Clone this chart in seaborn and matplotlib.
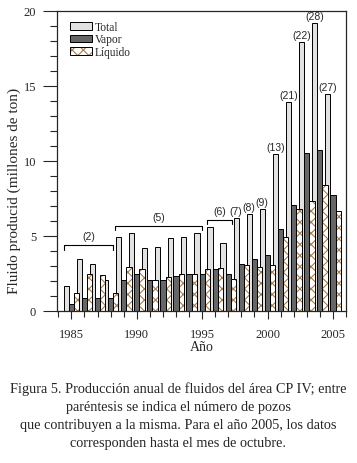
import pandas as pd
import seaborn as sns
import matplotlib.pyplot as plt
import matplotlib.colors as mcolors
from matplotlib.ticker import MultipleLocator

# annual production (millones de ton)
years = list(range(1985, 2006))
total = [1.67, 3.44, 3.16, 2.10, 4.96, 5.20, 4.18, 4.29, 4.84, 4.96, 5.22,
         5.62, 4.56, 6.22, 6.49, 6.82, 10.44, 13.96, 17.96, 19.18, 14.44]
vapor = [0.44, 0.89, 0.84, 0.84, 2.04, 2.44, 2.04, 2.04, 2.33, 2.46, 2.44,
         2.78, 2.44, 3.16, 3.49, 3.71, 5.49, 7.09, 10.56, 10.76, 7.76]
liquido = [1.18, 2.50, 2.38, 1.22, 2.93, 2.78, 2.10, 2.27, 2.50, 2.50, 2.78,
           2.84, 2.11, 3.09, 2.96, 3.09, 4.96, 6.82, 7.36, 8.38, 6.64]
series_names = ['Total', 'Vapor', 'Líquido']

# number of wells (groups spanning several years)
bracket_labels = ['(2)', '(5)', '(6)']
bracket_start = [1984.4, 1988.35, 1995.35]
bracket_end = [1988.2, 1995.0, 1997.3]
bracket_y = [4.4, 5.7, 6.1]

# number of wells (single years)
well_years = [1998, 1999, 2000, 2001, 2002, 2003, 2004, 2005]
well_counts = [7, 8, 9, 13, 21, 22, 28, 27]

caption = ("Figura 5. Producción anual de fluidos del área CP IV; entre\n"
           "paréntesis se indica el número de pozos\n"
           "que contribuyen a la misma. Para el año 2005, los datos\n"
           "corresponden hasta el mes de octubre.")

df = pd.DataFrame({
    'year': years * 3,
    'value': total + vapor + liquido,
    'tipo': [n for n in series_names for _ in years],
})

sns.set_style('ticks')
plt.rcParams['font.family'] = 'serif'
plt.rcParams['font.serif'] = ['Liberation Serif', 'DejaVu Serif']
plt.rcParams['hatch.linewidth'] = 0.8

fig = plt.figure(figsize=(3.57, 4.64), dpi=100)
ax = fig.add_axes([57 / 357, 1 - 312 / 464, 289 / 357, 300 / 464])

sns.barplot(data=df, x='year', y='value', hue='tipo', hue_order=series_names,
            native_scale=True, width=1.2, errorbar=None, ax=ax,
            palette=['#e2e2e2', '#666666', '#ffffff'],
            edgecolor='black', linewidth=0.7, saturation=1)

hatch_col = mcolors.to_rgba('#a57c4e')
for p in ax.containers[2]:
    p.set_hatch('xxx')
    p._hatch_color = hatch_col

handles = [c[0] for c in ax.containers]
ax.legend(handles, series_names, loc='upper left', frameon=False,
          bbox_to_anchor=(0.02, 0.99), fontsize=8.3, handlelength=1.9,
          handleheight=0.6, handletextpad=0.3, labelspacing=0.05,
          borderaxespad=0.2)

# well-count brackets
for lab, x0, x1, y in zip(bracket_labels, bracket_start, bracket_end, bracket_y):
    ax.plot([x0, x0, x1, x1], [y - 0.3, y, y, y - 0.3], color='black', lw=0.8)
    ax.text((x0 + x1) / 2, y + 0.25, lab, ha='center', va='bottom',
            fontsize=7.5, family='Liberation Sans')

tot_by_year = dict(zip(years, total))
for yr, n in zip(well_years, well_counts):
    ax.annotate('({})'.format(n), (yr - 0.4, tot_by_year[yr]),
                xytext=(0, 1.5), textcoords='offset points',
                ha='center', va='bottom', fontsize=7.5, family='Liberation Sans')

ax.set_xlim(1983.9, 2006.0)
ax.set_ylim(0, 20)
ax.set_xticks([1985, 1990, 1995, 2000, 2005])
ax.set_xticklabels(['1985', '1990', '1995', '2000', '2005'])
ax.xaxis.set_minor_locator(MultipleLocator(1))
ax.set_yticks([0, 5, 10, 15, 20])
ax.yaxis.set_minor_locator(MultipleLocator(1))
ax.tick_params(axis='both', which='major', labelsize=9, width=0.8)
ax.tick_params(axis='y', which='major', length=10, pad=5)
ax.tick_params(axis='y', which='minor', length=5, width=0.8)
ax.tick_params(axis='x', which='major', length=6, pad=6)
ax.tick_params(axis='x', which='minor', length=4, width=0.8)
for s in ax.spines.values():
    s.set_linewidth(0.9)

ax.set_xlabel('Año', fontsize=10, labelpad=0)
ax.set_ylabel('Fluido producid (millones de ton)', fontsize=11)
ax.yaxis.set_label_coords(-0.125, 0.405)

fig.text(0.5, 1 - 416 / 464, caption, ha='center', va='center',
         fontsize=10.3, linespacing=1.5, multialignment='center')

fig.savefig('out.png', dpi=100)
